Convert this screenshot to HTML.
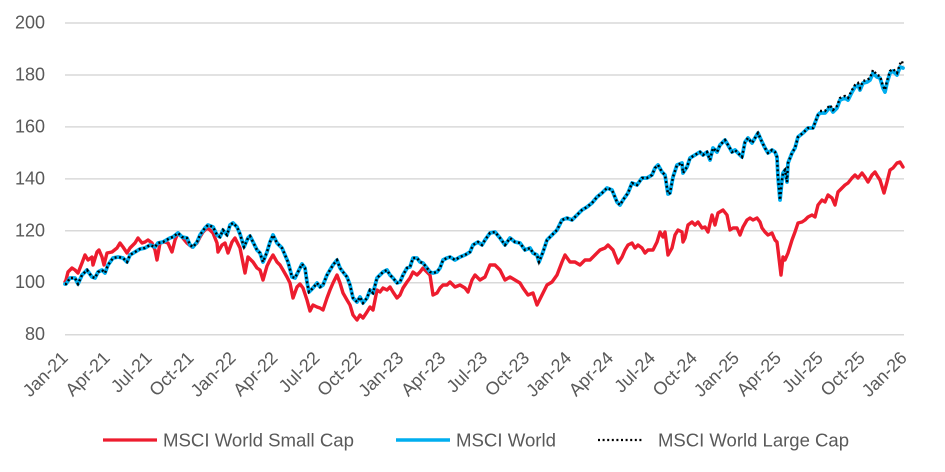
<!DOCTYPE html>
<html>
<head>
<meta charset="utf-8">
<style>
  html, body { margin:0; padding:0; background:#ffffff; }
  svg { display:block; }
  text { font-family: "Liberation Sans", "DejaVu Sans", sans-serif; fill:#595959; }
</style>
</head>
<body>
<svg width="945" height="472" viewBox="0 0 945 472" xmlns="http://www.w3.org/2000/svg">
  <rect x="0" y="0" width="945" height="472" fill="#ffffff"/>
  <!-- gridlines -->
  <g stroke="#d9d9d9" stroke-width="1.5">
    <line x1="65" y1="23" x2="904" y2="23"/>
    <line x1="65" y1="74.95" x2="904" y2="74.95"/>
    <line x1="65" y1="126.9" x2="904" y2="126.9"/>
    <line x1="65" y1="178.85" x2="904" y2="178.85"/>
    <line x1="65" y1="230.8" x2="904" y2="230.8"/>
    <line x1="65" y1="282.75" x2="904" y2="282.75"/>
    <line x1="65" y1="334.7" x2="904" y2="334.7"/>
  </g>
  <!-- y labels -->
  <g font-size="18" text-anchor="end">
    <text x="45" y="28.5">200</text>
    <text x="45" y="80.4">180</text>
    <text x="45" y="132.4">160</text>
    <text x="45" y="184.3">140</text>
    <text x="45" y="236.3">120</text>
    <text x="45" y="288.2">100</text>
    <text x="45" y="340.2">80</text>
  </g>
  <!-- x labels -->
  <g font-size="18" text-anchor="end">
    <text transform="translate(69,359) rotate(-45)">Jan-21</text>
    <text transform="translate(110.95,359) rotate(-45)">Apr-21</text>
    <text transform="translate(152.9,359) rotate(-45)">Jul-21</text>
    <text transform="translate(194.85,359) rotate(-45)">Oct-21</text>
    <text transform="translate(236.8,359) rotate(-45)">Jan-22</text>
    <text transform="translate(278.75,359) rotate(-45)">Apr-22</text>
    <text transform="translate(320.7,359) rotate(-45)">Jul-22</text>
    <text transform="translate(362.65,359) rotate(-45)">Oct-22</text>
    <text transform="translate(404.6,359) rotate(-45)">Jan-23</text>
    <text transform="translate(446.55,359) rotate(-45)">Apr-23</text>
    <text transform="translate(488.5,359) rotate(-45)">Jul-23</text>
    <text transform="translate(530.45,359) rotate(-45)">Oct-23</text>
    <text transform="translate(572.4,359) rotate(-45)">Jan-24</text>
    <text transform="translate(614.35,359) rotate(-45)">Apr-24</text>
    <text transform="translate(656.3,359) rotate(-45)">Jul-24</text>
    <text transform="translate(698.25,359) rotate(-45)">Oct-24</text>
    <text transform="translate(740.2,359) rotate(-45)">Jan-25</text>
    <text transform="translate(782.15,359) rotate(-45)">Apr-25</text>
    <text transform="translate(824.1,359) rotate(-45)">Jul-25</text>
    <text transform="translate(866.05,359) rotate(-45)">Oct-25</text>
    <text transform="translate(908,359) rotate(-45)">Jan-26</text>
  </g>

  <!-- Small cap (red) -->
  <polyline fill="none" stroke="#ED1C2E" stroke-width="3.4" stroke-linejoin="round" stroke-linecap="round"
    points="65,282 66,280 68,272 72,268 75,270 78,273 82,263 85,255 88,260 92,257 93,265 97,252 99,250 102,257 104,265 107,253 112,252 117,248 120,243 123,247 127,253 130,248 135,243 138,238 142,243 145,242 148,240 152,243 155,250 157,260 160,243 165,242 168,243 172,252 175,240 178,233 182,237 187,243 192,247 197,243 200,237 203,232 207,228 210,230 213,233 217,243 218,252 222,245 225,243 228,253 232,242 235,238 240,248 245,273 248,257 253,262 257,268 260,270 263,280 267,266 270,260 273,255 277,262 280,265 283,270 287,277 290,283 293,298 297,287 300,284 303,288 307,300 310,311 313,305 317,307 320,308 323,310 327,298 330,290 333,283 337,275 340,283 343,293 347,300 350,305 353,315 357,320 360,315 363,318 367,312 370,307 373,310 377,290 380,292 383,288 387,290 390,287 393,292 397,298 400,295 403,288 407,282 410,278 413,272 417,275 420,272 423,268 427,272 430,275 433,295 437,293 440,288 443,285 447,285 450,282 455,287 460,285 465,288 468,292 472,280 475,275 480,280 485,277 490,265 495,265 500,270 505,280 510,277 515,280 520,283 523,288 528,295 533,293 537,305 542,295 547,285 552,282 557,275 562,262 565,255 570,262 575,262 580,265 585,260 590,260 595,255 600,250 605,248 608,245 613,250 617,260 618,263 622,257 625,250 628,245 632,243 635,248 638,245 642,248 645,253 648,250 653,250 657,242 660,232 663,237 665,232 667,247 668,255 672,248 675,235 678,230 682,232 683,242 685,238 688,225 692,222 695,225 698,222 702,228 705,227 708,232 712,215 715,225 718,213 723,210 727,215 730,230 733,228 737,228 740,235 743,227 747,220 750,218 753,220 757,218 760,222 762,228 765,232 768,235 772,233 775,240 777,242 778,250 781,275 783,257 785,260 788,253 792,240 795,232 798,223 802,222 805,220 808,217 812,215 815,217 818,205 822,200 825,202 828,195 832,198 835,205 838,192 842,188 845,185 848,183 852,178 855,175 858,178 862,173 865,177 868,182 872,175 875,172 878,177 880,180 884,193 887,182 890,170 893,168 897,163 900,162 903,167"/>

  <!-- MSCI World (blue) -->
  <polyline fill="none" stroke="#00AEEF" stroke-width="3.8" stroke-linejoin="round" stroke-linecap="round"
    points="65,284 66,284 70,278 75,278 78,284 82,275 87,270 92,277 95,278 98,272 102,270 105,273 108,265 113,258 118,257 123,258 127,262 130,255 135,252 140,249 145,248 150,245 155,247 158,243 163,242 170,238 173,237 178,233 182,237 187,238 190,245 193,247 197,242 200,235 205,228 208,225 213,227 217,235 220,237 223,230 227,235 230,225 233,223 237,227 240,234 244,247 248,238 250,236 253,242 257,250 260,253 263,262 267,252 270,242 273,235 277,243 282,248 285,255 288,262 292,277 295,278 298,272 302,264 305,268 307,282 309,292 313,288 317,283 320,287 323,285 327,275 330,270 333,265 337,260 340,268 343,272 347,277 350,285 353,298 357,302 360,297 363,303 367,298 370,290 373,293 377,278 380,275 383,272 387,270 390,275 393,278 397,283 400,282 403,275 407,268 410,267 413,258 417,258 420,262 423,263 427,268 430,272 433,273 437,272 440,268 443,260 447,258 450,257 455,260 460,257 465,255 470,252 473,245 478,242 482,245 485,240 490,233 495,232 500,238 505,245 510,238 515,242 520,243 525,250 530,248 533,253 537,255 539,262 543,252 547,240 552,235 557,230 562,220 567,218 572,220 577,215 582,210 587,207 592,203 597,197 602,193 607,188 612,190 617,202 620,205 623,200 628,193 632,183 637,185 642,178 647,178 652,175 655,168 658,165 662,172 665,175 668,194 670,193 673,177 677,165 682,163 683,173 687,167 690,158 695,155 700,152 703,155 707,152 710,160 713,148 717,152 720,145 725,140 728,145 732,152 735,150 738,153 742,157 745,142 748,138 752,143 755,138 758,133 762,142 765,148 768,153 772,150 775,152 777,157 778,177 780,200 782,180 783,173 785,170 787,182 788,163 792,153 795,148 798,137 803,133 808,128 813,128 818,115 820,113 825,113 830,107 833,112 837,108 840,100 845,98 848,100 852,92 855,87 858,85 860,90 863,83 867,82 870,80 873,73 877,77 880,78 883,88 885,92 887,83 890,73 893,71 897,75 900,67 903,68"/>

  <!-- MSCI World Large Cap (black dotted) -->
  <polyline fill="none" stroke="#000000" stroke-width="2.4" stroke-dasharray="2 2.6"
    points="65,284 66,284 70,278 75,278 78,284 82,275 87,270 92,277 95,278 98,272 102,270 105,273 108,265 113,258 118,257 123,258 127,262 130,255 135,252 140,249 145,248 150,245 155,247 158,243 163,242 170,238 173,237 178,233 182,237 187,238 190,245 193,247 197,242 200,235 205,228 208,225 213,227 217,235 220,237 223,230 227,235 230,225 233,223 237,227 240,234 244,247 248,238 250,236 253,242 257,250 260,253 263,262 267,252 270,242 273,235 277,243 282,248 285,255 288,262 292,277 295,278 298,272 302,264 305,268 307,282 309,292 313,288 317,283 320,287 323,285 327,275 330,270 333,265 337,260 340,268 343,272 347,277 350,285 353,298 357,302 360,297 363,303 367,298 370,290 373,293 377,278 380,275 383,272 387,270 390,275 393,278 397,283 400,282 403,275 407,268 410,267 413,258 417,258 420,262 423,263 427,268 430,272 433,273 437,272 440,268 443,260 447,258 450,257 455,260 460,257 465,255 470,252 473,245 478,242 482,245 485,240 490,233 495,232 500,238 505,245 510,238 515,242 520,243 525,250 530,248 533,253 537,255 539,262 543,252 547,240 552,235 557,230 562,220 567,218 572,220 577,215 582,210 587,207 592,203 597,197 602,193 607,188 612,190 617,202 620,205 623,200 628,193 632,183 637,185 642,178 647,178 652,175 655,168 658,165 662,172 665,175 668,194 670,193 673,177 677,165 682,163 683,173 687,167 690,158 695,155 700,152 703,155 707,152 710,160 713,148 717,152 720,145 725,140 728,145 732,152 735,150 738,153 742,157 745,142 748,138 752,143 755,138 758,133 762,142 765,148 768,153 772,150 775,152 777,157 778,177 780,200 782,180 783,173 785,170 787,182 788,163 792,153 795,148 798,137 803,133 808,128 813,128 818,115 820,113"/>
  <polyline fill="none" stroke="#000000" stroke-width="2.4" stroke-dasharray="2 2.6" transform="translate(0,-2)"
    points="820,113 825,113 830,107 833,112 837,108 840,100 845,98 848,100 852,92 855,87 858,85 860,90 863,83 867,82 870,80 873,72 877,77 880,78 883,88 885,92 887,83 890,73 893,71 897,75 900,66 902,63 903,68"/>

  <!-- legend -->
  <line x1="103" y1="440" x2="157" y2="440" stroke="#ED1C2E" stroke-width="3.2"/>
  <text x="163" y="446.7" font-size="18.5" textLength="191" lengthAdjust="spacingAndGlyphs">MSCI World Small Cap</text>
  <line x1="396" y1="440" x2="450" y2="440" stroke="#00AEEF" stroke-width="3.5"/>
  <text x="456" y="446.7" font-size="18.5" textLength="100" lengthAdjust="spacingAndGlyphs">MSCI World</text>
  <line x1="598" y1="440" x2="643" y2="440" stroke="#000000" stroke-width="2.2" stroke-dasharray="2 2.6"/>
  <text x="658" y="446.7" font-size="18.5" textLength="191" lengthAdjust="spacingAndGlyphs">MSCI World Large Cap</text>
</svg>
</body>
</html>
